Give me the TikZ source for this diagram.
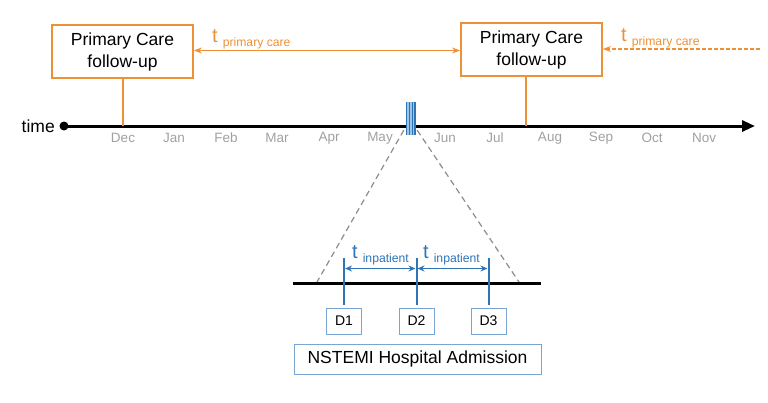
\documentclass[tikz,border=0pt]{standalone}
\usepackage{fontspec}
\setmainfont{Liberation Sans}
\usetikzlibrary{arrows.meta,calc}
\definecolor{orng}{RGB}{237,145,55}
\definecolor{blu}{RGB}{46,117,182}
\definecolor{lblu}{RGB}{120,165,210}
\definecolor{fillblu}{RGB}{157,195,230}
\definecolor{mgrey}{RGB}{160,160,160}
\definecolor{dgrey}{RGB}{140,140,140}
\tikzset{
  pcbox/.style={draw=orng,line width=1.8pt,minimum width=141pt,minimum height=53pt,align=center,inner sep=0pt,font=\fontsize{17.5}{22}\selectfont},
  dbox/.style={draw=lblu,line width=1pt,minimum width=35pt,minimum height=26pt,inner sep=0pt,font=\fontsize{14}{14}\selectfont},
  month/.style={text=mgrey,font=\fontsize{13.5}{14}\selectfont,inner sep=0pt},
  oline/.style={draw=orng,line width=1.8pt},
  bline/.style={draw=blu,line width=2pt},
  tlab/.style={anchor=base west,inner sep=0pt},
}
\newcommand{\tsub}[2]{{\fontsize{20}{20}\selectfont t}\hspace{5pt}\raisebox{-4pt}{\fontsize{12.2}{12}\selectfont #2}}
\begin{document}
\begin{tikzpicture}[x=1pt,y=-1pt]
\useasboundingbox (0,0) rectangle (768,402);
% boxes
\node[pcbox] (pc1) at (122.5,51.5) {Primary Care\\follow-up};
\node[pcbox] (pc2) at (531.5,49.5) {Primary Care\\follow-up};
% timeline
\coordinate (tstart) at (64,126);
\coordinate (tend) at (755,126);
\draw[line width=3pt,-{Triangle[length=13pt,width=11pt]}] (tstart) -- (tend);
\fill (tstart) circle (4.5pt);
\node[anchor=east,inner sep=0pt,font=\fontsize{17.5}{18}\selectfont] (time) at (55,126) {time};
% orange connectors
\coordinate (m1) at (123,126);
\coordinate (m2) at (526,126);
\draw[oline] (pc1.south -| m1) -- (m1);
\draw[oline] (pc2.south -| m2) -- (m2);
\draw[orng,line width=1.5pt,{Stealth[length=8pt,width=6pt]}-{Stealth[length=8pt,width=6pt]}] (pc1.east |- 0,50.5) -- (pc2.west |- 0,50.5);
\coordinate (dashend) at (760,49);
\draw[orng,line width=1.2pt,dash pattern=on 4pt off 2pt,-{Stealth[length=8pt,width=6pt]}] (dashend) -- (pc2.east |- dashend);
\node[tlab,text=orng] (tp1) at (212,42) {\tsub{}{primary care}};
\node[tlab,text=orng] (tp2) at (621,41) {\tsub{}{primary care}};
% months
\foreach \m/\x in {Dec/123,Jan/174,Feb/226,Mar/277,Apr/329,May/380,Jun/445,Jul/495,Aug/550,Sep/601,Oct/652,Nov/704}
  \node[month] (mo\m) at (\x,138) {\m};
% admission marker
\node[fill=fillblu,minimum width=9pt,minimum height=33pt,inner sep=0pt] (adm) at (410.5,118.5) {};
\foreach \x in {406.5,409.5,412.5,415}
  \draw[blu,line width=1.4pt] (\x,102) -- (\x,135);
% dashed zoom lines
\coordinate (zl) at (317,282);
\coordinate (zr) at (519,282);
\draw[dgrey,line width=1.2pt,dash pattern=on 6pt off 4pt] (adm.south west) ++(-2,-5) -- (zl);
\draw[dgrey,line width=1.2pt,dash pattern=on 6pt off 4pt] (adm.south east) ++(2,-5) -- (zr);
% lower timeline
\coordinate (ls) at (293,283.5);
\coordinate (le) at (541,283.5);
\draw[line width=3pt] (ls) -- (le);
% D boxes
\node[dbox] (d1) at (344,321) {D1};
\node[dbox] (d2) at (416.5,321) {D2};
\node[dbox] (d3) at (488.5,321) {D3};
\draw[bline] (d1.north) ++(0,-3) -- ++(0,-47) coordinate (d1t);
\draw[bline] (d2.north) ++(0,-3) -- ++(0,-47) coordinate (d2t);
\draw[bline] (d3.north) ++(0,-3) -- ++(0,-47) coordinate (d3t);
\draw[blu,line width=1.2pt,{Stealth[length=7pt,width=6pt]}-{Stealth[length=7pt,width=6pt]}] ($(d1t)+(1,11)$) -- ($(d2t)+(-1,11)$);
\draw[blu,line width=1.2pt,{Stealth[length=7pt,width=6pt]}-{Stealth[length=7pt,width=6pt]}] ($(d2t)+(1,11)$) -- ($(d3t)+(-1,11)$);
\node[tlab,text=blu] (ti1) at (352,258) {\tsub{}{inpatient}};
\node[tlab,text=blu] (ti2) at (423,258) {\tsub{}{inpatient}};
% NSTEMI box
\node[draw=lblu,line width=1pt,minimum width=247pt,minimum height=30pt,inner sep=0pt,font=\fontsize{17.5}{18}\selectfont] (nst) at (417.5,359) {NSTEMI Hospital Admission};
\end{tikzpicture}
\end{document}
